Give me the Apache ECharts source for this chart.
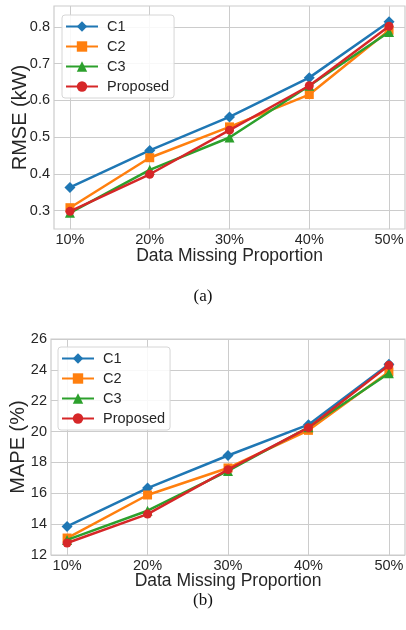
<!DOCTYPE html>
<html>
<head>
<meta charset="utf-8">
<script src="https://cdn.jsdelivr.net/npm/echarts@6/dist/echarts.min.js"></script>
<style>html,body{margin:0;padding:0;background:#fff}#c{width:406px;height:630px}</style>
</head>
<body>
<div id="c"></div>
<script>
// ---- data ----
const categories = ['10%', '20%', '30%', '40%', '50%'];
const seriesNames = ['C1', 'C2', 'C3', 'Proposed'];
const rmseC1 = [0.363, 0.464, 0.555, 0.662, 0.814];
const rmseC2 = [0.308, 0.444, 0.528, 0.616, 0.791];
const rmseC3 = [0.294, 0.411, 0.499, 0.640, 0.786];
const rmseProposed = [0.298, 0.399, 0.519, 0.640, 0.802];
const mapeC1 = [13.85, 16.34, 18.45, 20.45, 24.37];
const mapeC2 = [13.10, 15.89, 17.64, 20.08, 23.87];
const mapeC3 = [12.98, 14.87, 17.45, 20.28, 23.78];
const mapeProposed = [12.78, 14.65, 17.53, 20.25, 24.30];
const rmseTicks = [0.3, 0.4, 0.5, 0.6, 0.7, 0.8];
const mapeTicks = [12, 14, 16, 18, 20, 22, 24, 26];

const colors = ['#1f77b4', '#ff7f0e', '#2ca02c', '#d62728'];
const symbols = ['diamond', 'rect', 'triangle', 'circle'];
const symbolSizes = [11, 9, 10, 9];
const textColor = '#262626';
const font = 'Liberation Sans, Arial, sans-serif';
const idx = categories.map((c, i) => i);

function toPairs(vals) { return vals.map((v, i) => [idx[i], v]); }

const rmseSets = [rmseC1, rmseC2, rmseC3, rmseProposed];
const mapeSets = [mapeC1, mapeC2, mapeC3, mapeProposed];

function xAxis(gridIndex, gap) {
  return {
    type: 'value', gridIndex: gridIndex, min: -0.2, max: 4.2,
    name: 'Data Missing Proportion', nameLocation: 'middle', nameGap: gap, nameMoveOverlap: false,
    nameTextStyle: { fontFamily: font, fontSize: 17.5, color: textColor },
    axisLine: { show: false },
    axisTick: { show: false, customValues: idx },
    axisLabel: { customValues: idx, formatter: v => categories[Math.round(v)], fontFamily: font, fontSize: 14.5, color: textColor, margin: 3 },
    splitLine: { show: true, lineStyle: { color: '#cccccc', width: 1 } }
  };
}
function yAxis(gridIndex, name, min, max, ticks, fmt, gap) {
  return {
    type: 'value', gridIndex: gridIndex, min: min, max: max,
    name: name, nameLocation: 'middle', nameGap: gap, nameRotate: 90, nameMoveOverlap: false,
    nameTextStyle: { fontFamily: font, fontSize: 20, color: textColor },
    axisLine: { show: false },
    axisTick: { show: false, customValues: ticks },
    axisLabel: { customValues: ticks, formatter: fmt, fontFamily: font, fontSize: 14.5, color: textColor, margin: 4 },
    splitLine: { show: true, lineStyle: { color: '#cccccc', width: 1 } }
  };
}

const series = [];
[rmseSets, mapeSets].forEach((sets, g) => {
  sets.forEach((vals, i) => {
    series.push({
      type: 'line', name: seriesNames[i], xAxisIndex: g, yAxisIndex: g,
      data: toPairs(vals), symbol: symbols[i], symbolSize: symbolSizes[i],
      showAllSymbol: true,
      lineStyle: { color: colors[i], width: 2.5 },
      itemStyle: { color: colors[i] },
      emphasis: { disabled: true }, animation: false, z: 3 + i
    });
  });
});

function legend(left, top) {
  return {
    orient: 'vertical', left: left, top: top,
    data: seriesNames,
    itemWidth: 32, itemHeight: 13, itemGap: 5,
    padding: [4, 5, 4, 3],
    borderColor: '#d6d6d6', borderWidth: 1, borderRadius: 3,
    backgroundColor: 'rgba(255,255,255,0.85)',
    textStyle: { fontFamily: font, fontSize: 14.5, color: textColor, padding: [0, 0, 0, 4] },
    selectedMode: false
  };
}

const chart = echarts.init(document.getElementById('c'), null, { renderer: 'canvas' });
chart.setOption({
  backgroundColor: '#ffffff',
  animation: false,
  title: [
    { text: '(a)', left: 'center', top: 283, textStyle: { fontFamily: 'Liberation Serif, Times New Roman, serif', fontSize: 17, fontWeight: 'normal', color: '#111' } },
    { text: '(b)', left: 'center', top: 587, textStyle: { fontFamily: 'Liberation Serif, Times New Roman, serif', fontSize: 17, fontWeight: 'normal', color: '#111' } }
  ],
  grid: [
    { left: 54, right: 1, top: 6, height: 223, show: true, borderColor: '#cccccc', borderWidth: 1.2, backgroundColor: 'transparent', outerBoundsMode: 'none', containLabel: false },
    { left: 51, right: 1, top: 339, height: 216, show: true, borderColor: '#cccccc', borderWidth: 1.2, backgroundColor: 'transparent', outerBoundsMode: 'none', containLabel: false }
  ],
  xAxis: [xAxis(0, 18), xAxis(1, 17)],
  yAxis: [
    yAxis(0, 'RMSE (kW)', 0.25, 0.857, rmseTicks, v => v.toFixed(1), 24),
    yAxis(1, 'MAPE (%)', 12, 26, mapeTicks, v => String(Math.round(v)), 23)
  ],
  legend: [legend(62, 15), legend(58, 347)],
  series: series
});
</script>
</body>
</html>
